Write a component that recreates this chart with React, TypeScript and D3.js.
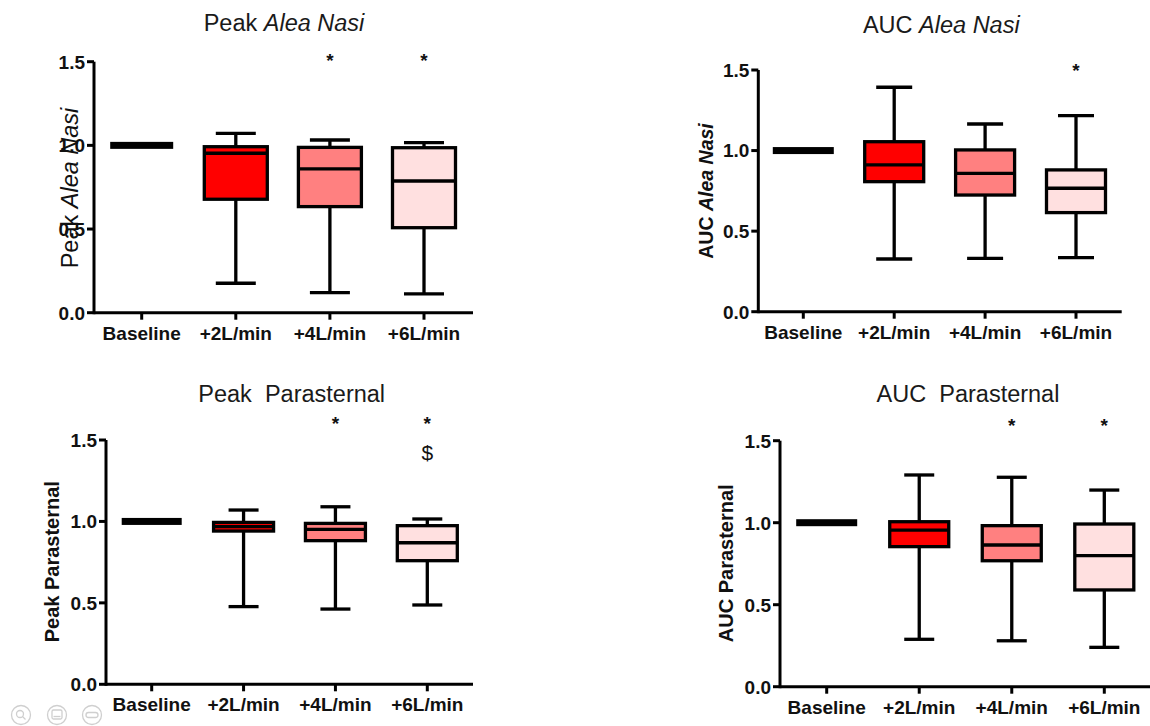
import React from "react";
import * as d3 from "d3";

// ---------- data ----------
const groups = ["Baseline", "+2L/min", "+4L/min", "+6L/min"];
const yTicks = [0, 0.5, 1.0, 1.5];
const fills = ["#000000", "#FF0000", "#FF8080", "#FFE0E0"];

// [min, q1, median, q3, max]
const peakAleaNasi = [
  [1, 1, 1, 1, 1],
  [0.176, 0.678, 0.953, 0.992, 1.072],
  [0.12, 0.634, 0.859, 0.988, 1.032],
  [0.112, 0.508, 0.787, 0.986, 1.016],
];
const aucAleaNasi = [
  [1, 1, 1, 1, 1],
  [0.327, 0.807, 0.911, 1.055, 1.393],
  [0.331, 0.724, 0.859, 1.004, 1.165],
  [0.335, 0.615, 0.766, 0.88, 1.217],
];
const peakParasternal = [
  [1, 1, 1, 1, 1],
  [0.477, 0.941, 0.968, 0.994, 1.07],
  [0.462, 0.882, 0.951, 0.988, 1.09],
  [0.487, 0.759, 0.869, 0.974, 1.015],
];
const aucParasternal = [
  [1, 1, 1, 1, 1],
  [0.289, 0.854, 0.955, 1.006, 1.291],
  [0.28, 0.768, 0.864, 0.982, 1.277],
  [0.24, 0.59, 0.799, 0.992, 1.199],
];

const peakAleaNasiMarks = ["", "", "*", "*"];
const aucAleaNasiMarks = ["", "", "", "*"];
const peakParasternalMarks = ["", "", "*", "*"];
const peakParasternalMarks2 = ["", "", "", "$"];
const aucParasternalMarks = ["", "", "*", "*"];

// ---------- layout ----------
const FONT = "'Liberation Sans', Arial, Helvetica, sans-serif";

type Cfg = {
  data: number[][];
  marks: string[];
  marks2?: string[];
  axisX: number;
  xEnd: number;
  y0: number;
  yTop: number;
  xFirst: number;
  xLast: number;
  boxW: number;
  capW: number;
  barW: number;
  markY: number;
  mark2Y?: number;
  title: [string, string];
  titleItalic: boolean;
  titleX: number;
  titleY: number;
  yLabel: [string, string];
  yLabelItalic: boolean;
  yLabelBold: boolean;
  yLabelSize: number;
  yLabelX: number;
  yLabelY: number;
};

const panels: Cfg[] = [
  {
    data: peakAleaNasi, marks: peakAleaNasiMarks,
    axisX: 94, xEnd: 473, y0: 312.7, yTop: 61.7, xFirst: 141.7, xLast: 424,
    boxW: 63, capW: 40, barW: 63, markY: 56,
    title: ["Peak ", "Alea Nasi"], titleItalic: true, titleX: 284, titleY: 31,
    yLabel: ["Peak ", "Alea Nasi"], yLabelItalic: true, yLabelBold: false, yLabelSize: 23.5,
    yLabelX: 78, yLabelY: 188,
  },
  {
    data: aucAleaNasi, marks: aucAleaNasiMarks,
    axisX: 758.3, xEnd: 1121.7, y0: 311.7, yTop: 70, xFirst: 803.3, xLast: 1076,
    boxW: 59, capW: 36, barW: 61, markY: 66,
    title: ["AUC ", "Alea Nasi"], titleItalic: true, titleX: 941.3, titleY: 32.5,
    yLabel: ["AUC ", "Alea Nasi"], yLabelItalic: true, yLabelBold: true, yLabelSize: 19.5,
    yLabelX: 713, yLabelY: 191,
  },
  {
    data: peakParasternal, marks: peakParasternalMarks, marks2: peakParasternalMarks2,
    axisX: 106, xEnd: 473, y0: 684.3, yTop: 440, xFirst: 151.7, xLast: 427.3,
    boxW: 60, capW: 30, barW: 60, markY: 419, mark2Y: 460,
    title: ["Peak  Parasternal", ""], titleItalic: false, titleX: 291.7, titleY: 402.3,
    yLabel: ["Peak Parasternal", ""], yLabelItalic: false, yLabelBold: true, yLabelSize: 20,
    yLabelX: 59, yLabelY: 561.7,
  },
  {
    data: aucParasternal, marks: aucParasternalMarks,
    axisX: 780, xEnd: 1150, y0: 686.7, yTop: 440.7, xFirst: 826.7, xLast: 1104.3,
    boxW: 59, capW: 30, barW: 61, markY: 421,
    title: ["AUC  Parasternal", ""], titleItalic: false, titleX: 968, titleY: 402.3,
    yLabel: ["AUC Parasternal", ""], yLabelItalic: false, yLabelBold: true, yLabelSize: 20,
    yLabelX: 733, yLabelY: 563.3,
  },
];

const fmt = d3.format(".1f");

function Panel({ c }: { c: Cfg }) {
  const y = d3.scaleLinear().domain([0, 1.5]).range([c.y0, c.yTop]);
  const x = d3.scalePoint<string>().domain(groups).range([c.xFirst, c.xLast]);
  return (
    <g>
      {/* title */}
      <text x={c.titleX} y={c.titleY} textAnchor="middle" fontSize={23.5} fill="#1a1a1a" style={{ whiteSpace: "pre" }}>
        <tspan>{c.title[0]}</tspan>
        {c.title[1] && <tspan fontStyle={c.titleItalic ? "italic" : "normal"}>{c.title[1]}</tspan>}
      </text>

      {/* y ticks */}
      {yTicks.map((t) => (
        <g key={t}>
          <line x1={c.axisX - 7} x2={c.axisX} y1={y(t)} y2={y(t)} stroke="#000" strokeWidth={3} />
          <text x={c.axisX - 9} y={y(t)} dy="0.36em" textAnchor="end" fontSize={19} fontWeight="bold" fill="#111">
            {fmt(t)}
          </text>
        </g>
      ))}

      {/* y axis label */}
      <text
        transform={`translate(${c.yLabelX},${c.yLabelY}) rotate(-90)`}
        textAnchor="middle"
        fontSize={c.yLabelSize}
        fontWeight={c.yLabelBold ? "bold" : "normal"}
        fill="#111"
      >
        <tspan>{c.yLabel[0]}</tspan>
        {c.yLabel[1] && <tspan fontStyle={c.yLabelItalic ? "italic" : "normal"}>{c.yLabel[1]}</tspan>}
      </text>

      {/* boxes */}
      {c.data.map((d, i) => {
        const cx = x(groups[i])!;
        const [mn, q1, med, q3, mx] = d;
        if (i === 0) {
          return (
            <rect key={i} x={cx - c.barW / 2} y={y(med) - 3.5} width={c.barW} height={7} fill={fills[0]} />
          );
        }
        return (
          <g key={i} stroke="#000" strokeWidth={3.3}>
            <line x1={cx} x2={cx} y1={y(mx)} y2={y(q3)} />
            <line x1={cx} x2={cx} y1={y(q1)} y2={y(mn)} />
            <line x1={cx - c.capW / 2} x2={cx + c.capW / 2} y1={y(mx)} y2={y(mx)} />
            <line x1={cx - c.capW / 2} x2={cx + c.capW / 2} y1={y(mn)} y2={y(mn)} />
            <rect x={cx - c.boxW / 2} y={y(q3)} width={c.boxW} height={y(q1) - y(q3)} fill={fills[i]} />
            <line x1={cx - c.boxW / 2} x2={cx + c.boxW / 2} y1={y(med)} y2={y(med)} />
          </g>
        );
      })}

      {/* x axis */}
      <line x1={c.axisX} x2={c.xEnd} y1={c.y0} y2={c.y0} stroke="#000" strokeWidth={3} />
      <line x1={c.axisX} x2={c.axisX} y1={c.y0 + 1.5} y2={c.yTop} stroke="#000" strokeWidth={3} />
      {groups.map((g) => (
        <g key={g}>
          <line x1={x(g)} x2={x(g)} y1={c.y0} y2={c.y0 + 7} stroke="#000" strokeWidth={3} />
          <text x={x(g)} y={c.y0 + 27} textAnchor="middle" fontSize={19} fontWeight="bold" fill="#111">
            {g}
          </text>
        </g>
      ))}

      {/* significance marks */}
      {c.marks.map((m, i) =>
        m ? (
          <text key={"m" + i} x={x(groups[i])} y={c.markY + 11} textAnchor="middle" fontSize={19} fontWeight="bold" fill="#111">
            {m}
          </text>
        ) : null
      )}
      {c.marks2 &&
        c.marks2.map((m, i) =>
          m ? (
            <text key={"m2" + i} x={x(groups[i])} y={c.mark2Y} textAnchor="middle" fontSize={21} fill="#111">
              {m}
            </text>
          ) : null
        )}
    </g>
  );
}

function Icons() {
  const cs = [21, 57, 92];
  const cy = 715;
  return (
    <g stroke="#cfcfcf" fill="none" strokeWidth={1.3}>
      {cs.map((cx) => (
        <circle key={cx} cx={cx} cy={cy} r={9.5} />
      ))}
      <circle cx={20} cy={714} r={3.5} />
      <line x1={22.5} y1={716.5} x2={25.5} y2={719.5} />
      <rect x={52} y={710} width={10} height={9} rx={1.5} />
      <line x1={53.5} y1={716.5} x2={60.5} y2={716.5} />
      <rect x={86} y={712.5} width={12} height={5} rx={2.5} />
    </g>
  );
}

export default function App() {
  return (
    <svg
      width={1150}
      height={726}
      viewBox="0 0 1150 726"
      style={{ position: "absolute", left: 0, top: 0, background: "#fff", fontFamily: FONT }}
    >
      <rect width={1150} height={726} fill="#fff" />
      {panels.map((c, i) => (
        <Panel key={i} c={c} />
      ))}
      <Icons />
    </svg>
  );
}
